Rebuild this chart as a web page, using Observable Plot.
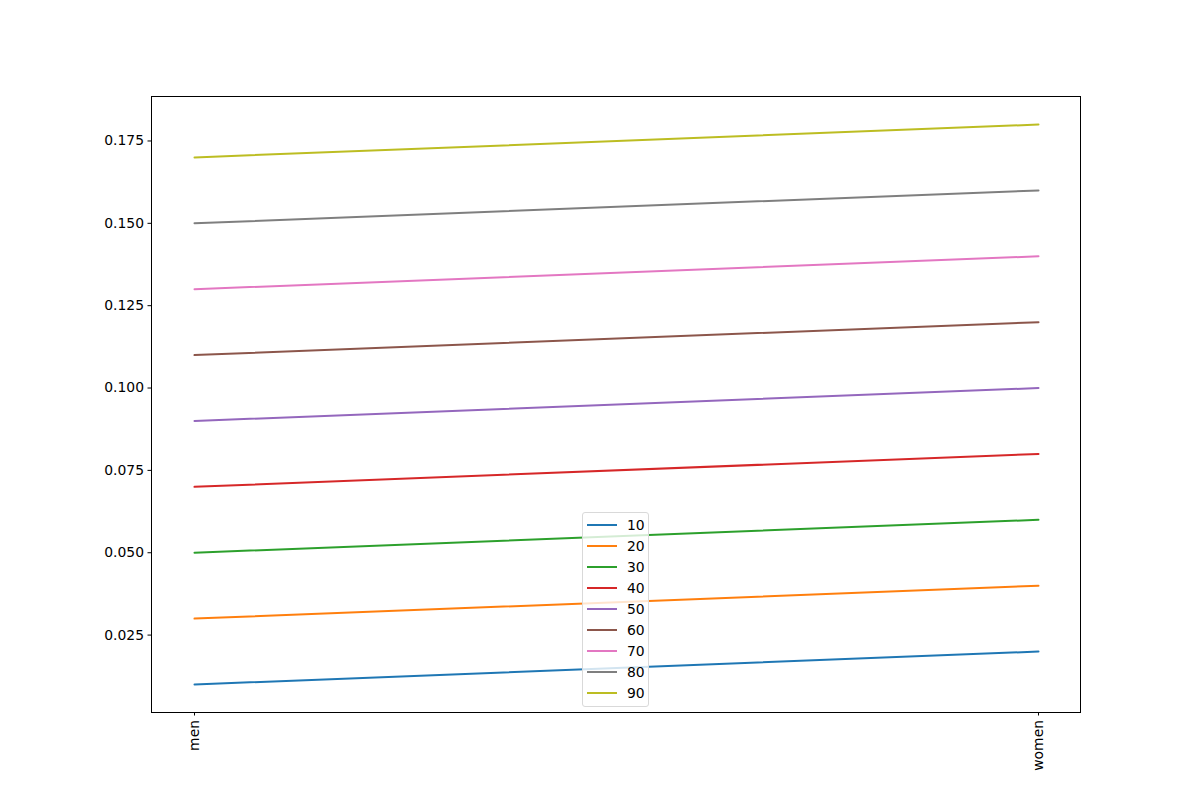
<!DOCTYPE html>
<html>
<head>
<meta charset="utf-8">
<script src="https://cdn.jsdelivr.net/npm/d3@7"></script>
<script src="https://cdn.jsdelivr.net/npm/@observablehq/plot@0.6"></script>
<style>
  html, body { margin: 0; padding: 0; background: #fff; }
  #wrap { position: relative; width: 1200px; height: 800px; font-family: "DejaVu Sans", sans-serif; }
  #wrap svg text { font-size: 13.9px; fill: #000; }
  #legend {
    position: absolute; left: 582px; top: 512px; width: 65px;
    background: rgba(255,255,255,0.8); border: 1px solid #d9d9d9; border-radius: 3px;
    padding: 1px 0 3px 0; box-sizing: content-box;
  }
  .row { display: flex; align-items: center; height: 21px; font-size: 13.9px; color: #000; }
  .swatch { width: 30px; height: 0; border-top: 2px solid; margin-left: 4px; margin-right: 10px; }
</style>
</head>
<body>
<div id="wrap"></div>
<script>
const categories = ["men", "women"];
const seriesNames = ["10", "20", "30", "40", "50", "60", "70", "80", "90"];
const menValues =   [0.01, 0.03, 0.05, 0.07, 0.09, 0.11, 0.13, 0.15, 0.17];
const womenValues = [0.02, 0.04, 0.06, 0.08, 0.10, 0.12, 0.14, 0.16, 0.18];
const yTicks = [0.025, 0.050, 0.075, 0.100, 0.125, 0.150, 0.175];
const colors = ["#1f77b4", "#ff7f0e", "#2ca02c", "#d62728", "#9467bd", "#8c564b", "#e377c2", "#7f7f7f", "#bcbd22"];

const data = [];
seriesNames.forEach((s, i) => {
  data.push({series: s, cat: categories[0], value: menValues[i]});
  data.push({series: s, cat: categories[1], value: womenValues[i]});
});

const yMin = d3.min(menValues), yMax = d3.max(womenValues);
const pad = (yMax - yMin) * 0.05;

const chart = Plot.plot({
  width: 1200,
  height: 800,
  marginLeft: 151,
  marginRight: 120,
  marginTop: 96,
  marginBottom: 88,
  style: {fontFamily: "DejaVu Sans, sans-serif", fontSize: "13.9px", background: "white", color: "black"},
  x: {type: "point", domain: categories, padding: 0.05, align: 0.5},
  y: {domain: [yMin - pad, yMax + pad], ticks: yTicks, tickFormat: d3.format(".3f")},
  color: {domain: seriesNames, range: colors},
  marks: [
    Plot.line(data, {x: "cat", y: "value", z: "series", stroke: "series", strokeWidth: 2}),
    Plot.frame({stroke: "black", strokeWidth: 1}),
    Plot.axisY({ticks: yTicks, tickFormat: d3.format(".3f"), tickSize: 3.5, tickPadding: 4, label: null, fontSize: 13.9}),
    Plot.axisX({tickSize: 3.5, tickRotate: -90, tickPadding: 4, label: null, fontSize: 13.9})
  ]
});

const wrap = document.getElementById("wrap");
wrap.appendChild(chart);

const legend = document.createElement("div");
legend.id = "legend";
seriesNames.forEach((s, i) => {
  const row = document.createElement("div");
  row.className = "row";
  const sw = document.createElement("div");
  sw.className = "swatch";
  sw.style.borderTopColor = colors[i];
  const lab = document.createElement("span");
  lab.textContent = s;
  row.appendChild(sw);
  row.appendChild(lab);
  legend.appendChild(row);
});
wrap.appendChild(legend);
</script>
</body>
</html>
